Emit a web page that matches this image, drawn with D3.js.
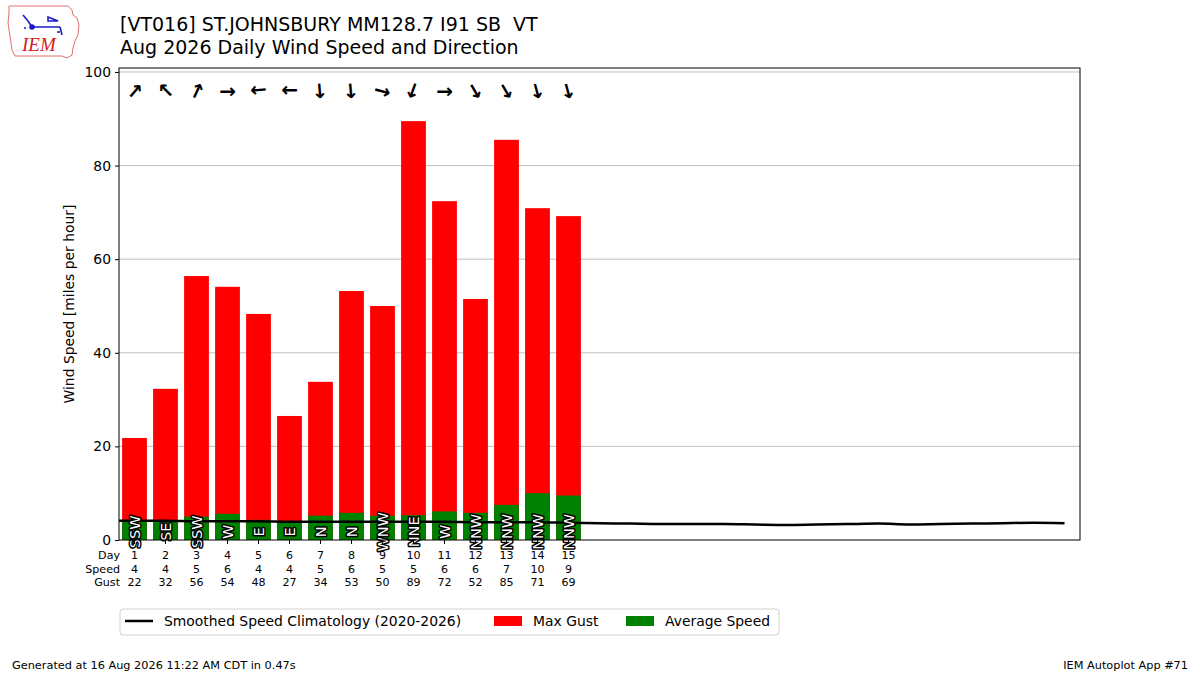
<!DOCTYPE html>
<html>
<head>
<meta charset="utf-8">
<script src="https://cdn.jsdelivr.net/npm/d3@7"></script>
<style>
  body { margin: 0; background: #fff; }
  text { font-family: "DejaVu Sans", sans-serif; white-space: pre; }
</style>
</head>
<body>
<div id="wrapper"></div>
<script>
// data
const days = [1, 2, 3, 4, 5, 6, 7, 8, 9, 10, 11, 12, 13, 14, 15]
const avgSpeed = [4.3, 4.1, 5.0, 5.6, 4.3, 3.9, 5.2, 5.8, 5.2, 5.3, 6.1, 5.8, 7.5, 10.0, 9.5]
const maxGust = [21.8, 32.3, 56.4, 54.1, 48.3, 26.5, 33.8, 53.2, 50.0, 89.5, 72.4, 51.5, 85.5, 70.9, 69.2]
const speedLabels = [4, 4, 5, 6, 4, 4, 5, 6, 5, 5, 6, 6, 7, 10, 9]
const gustLabels = [22, 32, 56, 54, 48, 27, 34, 53, 50, 89, 72, 52, 85, 71, 69]
const dirText = ["SSW", "SE", "SSW", "W", "E", "E", "N", "N", "WNW", "NNE", "W", "NNW", "NNW", "NNW", "NNW"]
// direction the wind came from (degrees), used for the arrows
const dirDeg = [220, 135, 205, 270, 85, 90, 355, 355, 285, 20, 270, 330, 330, 345, 345]
const climDays = [0, 1, 2, 3, 4, 5, 6, 7, 8, 9, 10, 11, 12, 13, 14, 15, 16, 17, 18, 19, 20, 21, 22, 23, 24, 25, 26, 27, 28, 29, 30, 31]
const climSpeed = [4.1, 4.1, 4.1, 4.0, 4.0, 4.0, 3.9, 3.9, 3.9, 3.9, 3.9, 3.9, 3.8, 3.8, 3.8, 3.7, 3.6, 3.5, 3.4, 3.4, 3.4, 3.3, 3.2, 3.3, 3.4, 3.5, 3.3, 3.4, 3.5, 3.6, 3.7, 3.6]
const yTicks = [0, 20, 40, 60, 80, 100]

let dimensions = {
    width: 1200,
    height: 675,
    margin: { top: 68, right: 120, bottom: 135, left: 119 },
}
dimensions.boundedWidth = dimensions.width - dimensions.margin.left - dimensions.margin.right
dimensions.boundedHeight = dimensions.height - dimensions.margin.top - dimensions.margin.bottom

const svg = d3.select("#wrapper")
    .append("svg")
    .attr("width", dimensions.width)
    .attr("height", dimensions.height)

const x = d3.scaleLinear()
    .domain([0.5, 31.5])
    .range([0, dimensions.boundedWidth])
const y = d3.scaleLinear()
    .domain([0, 100.85])
    .range([dimensions.boundedHeight, 0])

// logo (rough Iowa outline + wind vane)
const logo = svg.append("g")
logo.append("path")
    .attr("d", "M9,6 L68,6 L72,10 L73,15 L77,18 L79,25 L78,35 L75,41 L73,48 L72,55 L67,58 L62,56 L15,56 L12,50 L10,36 L8,23 L9,13 Z")
    .attr("fill", "none").attr("stroke", "#e07070").attr("stroke-width", 1)
logo.append("path")
    .attr("d", "M32,27 L60,27 M60,27 L62,35 M23,15 L28,21 L32,27 M48,17 L58,21 L48,21 Z M57,32 L60,32")
    .attr("fill", "none").attr("stroke", "#1a1ac8").attr("stroke-width", 1.6)
logo.append("circle").attr("cx", 32).attr("cy", 27).attr("r", 2.8).attr("fill", "#1a1ac8")
logo.append("circle").attr("cx", 25).attr("cy", 28).attr("r", 1).attr("fill", "#1a1ac8")
logo.append("text")
    .attr("x", 22).attr("y", 51)
    .attr("font-style", "italic")
    .attr("font-size", 19)
    .attr("fill", "#d02020")
    .style("font-family", "'Liberation Serif', serif")
    .text("IEM")

// titles
svg.append("text").attr("x", 120).attr("y", 31).attr("font-size", 19)
    .text("[VT016] ST.JOHNSBURY MM128.7 I91 SB  VT")
svg.append("text").attr("x", 120).attr("y", 54).attr("font-size", 19)
    .text("Aug 2026 Daily Wind Speed and Direction")

const bounds = svg.append("g")
    .attr("transform", `translate(${dimensions.margin.left}, ${dimensions.margin.top})`)

bounds.append("clipPath").attr("id", "clip")
    .append("rect")
    .attr("width", dimensions.boundedWidth)
    .attr("height", dimensions.boundedHeight)

// grid
bounds.append("g")
    .selectAll("line")
    .data(yTicks.slice(1))
    .join("line")
    .attr("x1", 0).attr("x2", dimensions.boundedWidth)
    .attr("y1", d => y(d)).attr("y2", d => y(d))
    .attr("stroke", "#b0b0b0").attr("stroke-width", 0.8)

const barW = x(1.4) - x(0.6)

bounds.append("g")
    .selectAll("rect")
    .data(days)
    .join("rect")
    .attr("x", (d, i) => x(d) - barW / 2)
    .attr("width", barW)
    .attr("y", (d, i) => y(maxGust[i]))
    .attr("height", (d, i) => y(0) - y(maxGust[i]))
    .attr("fill", "#ff0000")

bounds.append("g")
    .selectAll("rect")
    .data(days)
    .join("rect")
    .attr("x", (d, i) => x(d) - barW / 2)
    .attr("width", barW)
    .attr("y", (d, i) => y(avgSpeed[i]))
    .attr("height", (d, i) => y(0) - y(avgSpeed[i]))
    .attr("fill", "#008000")

// climatology line
const line = d3.line()
    .x((d, i) => x(d))
    .y((d, i) => y(climSpeed[i]))
    .curve(d3.curveMonotoneX)
bounds.append("path")
    .attr("clip-path", "url(#clip)")
    .attr("d", line(climDays))
    .attr("fill", "none")
    .attr("stroke", "#000")
    .attr("stroke-width", 2.5)

// direction labels on bars
bounds.append("g")
    .selectAll("text")
    .data(days)
    .join("text")
    .attr("transform", (d, i) => `translate(${x(d) + 5}, ${y(1.75)}) rotate(-90)`)
    .attr("text-anchor", "middle")
    .attr("font-size", 14.5)
    .attr("fill", "#fff")
    .attr("stroke", "#000")
    .attr("stroke-width", 3)
    .attr("paint-order", "stroke")
    .attr("stroke-linejoin", "round")
    .text((d, i) => dirText[i])

// arrows
bounds.append("g")
    .selectAll("text")
    .data(days)
    .join("text")
    .attr("transform", (d, i) => `translate(${x(d)}, ${y(96)}) rotate(${dirDeg[i] + 180 - 90})`)
    .attr("text-anchor", "middle")
    .attr("dy", "0.35em")
    .attr("font-size", 20)
    .attr("font-weight", "bold")
    .text("\u2192")

// frame
bounds.append("rect")
    .attr("width", dimensions.boundedWidth)
    .attr("height", dimensions.boundedHeight)
    .attr("fill", "none").attr("stroke", "#000").attr("stroke-width", 1)

// y axis
bounds.append("g")
    .call(d3.axisLeft(y).tickValues(yTicks).tickSize(4).tickPadding(4))
    .call(g => g.select(".domain").remove())
    .call(g => g.selectAll(".tick text").attr("font-size", 13.9).attr("fill", "#000")
        .style("font-family", "DejaVu Sans"))

bounds.append("text")
    .attr("transform", `translate(-45, ${dimensions.boundedHeight / 2}) rotate(-90)`)
    .attr("text-anchor", "middle")
    .attr("font-size", 13.9)
    .text("Wind Speed [miles per hour]")

// x ticks and table labels
const xt = bounds.append("g").attr("transform", `translate(0, ${dimensions.boundedHeight})`)
xt.selectAll("line")
    .data(days)
    .join("line")
    .attr("x1", d => x(d)).attr("x2", d => x(d))
    .attr("y1", 0).attr("y2", 4)
    .attr("stroke", "#000")

const rows = [days, speedLabels, gustLabels]
const rowNames = ["Day", "Speed", "Gust"]
rows.forEach((vals, r) => {
    xt.append("g")
        .selectAll("text")
        .data(vals)
        .join("text")
        .attr("x", (d, i) => x(days[i]))
        .attr("y", 19 + r * 13.5)
        .attr("text-anchor", "middle")
        .attr("font-size", 11.1)
        .text(d => d)
    xt.append("text")
        .attr("x", 1)
        .attr("y", 19 + r * 13.5)
        .attr("text-anchor", "end")
        .attr("font-size", 11.1)
        .text(rowNames[r])
})

// legend
const legend = svg.append("g").attr("transform", "translate(120, 609)")
legend.append("rect")
    .attr("width", 659).attr("height", 26).attr("rx", 3)
    .attr("fill", "#fff").attr("stroke", "#d0d0d0")
legend.append("line")
    .attr("x1", 5).attr("x2", 33).attr("y1", 12).attr("y2", 12)
    .attr("stroke", "#000").attr("stroke-width", 2.5)
legend.append("text").attr("x", 44).attr("y", 17).attr("font-size", 13.9)
    .text("Smoothed Speed Climatology (2020-2026)")
legend.append("rect").attr("x", 374).attr("y", 7).attr("width", 28).attr("height", 10).attr("fill", "#ff0000")
legend.append("text").attr("x", 413).attr("y", 17).attr("font-size", 13.9).text("Max Gust")
legend.append("rect").attr("x", 506).attr("y", 7).attr("width", 28).attr("height", 10).attr("fill", "#008000")
legend.append("text").attr("x", 545).attr("y", 17).attr("font-size", 13.9).text("Average Speed")

// footer
svg.append("text").attr("x", 12).attr("y", 669).attr("font-size", 11.3)
    .text("Generated at 16 Aug 2026 11:22 AM CDT in 0.47s")
svg.append("text").attr("x", 1188).attr("y", 669).attr("font-size", 11.3)
    .attr("text-anchor", "end")
    .text("IEM Autoplot App #71")
</script>
</body>
</html>
